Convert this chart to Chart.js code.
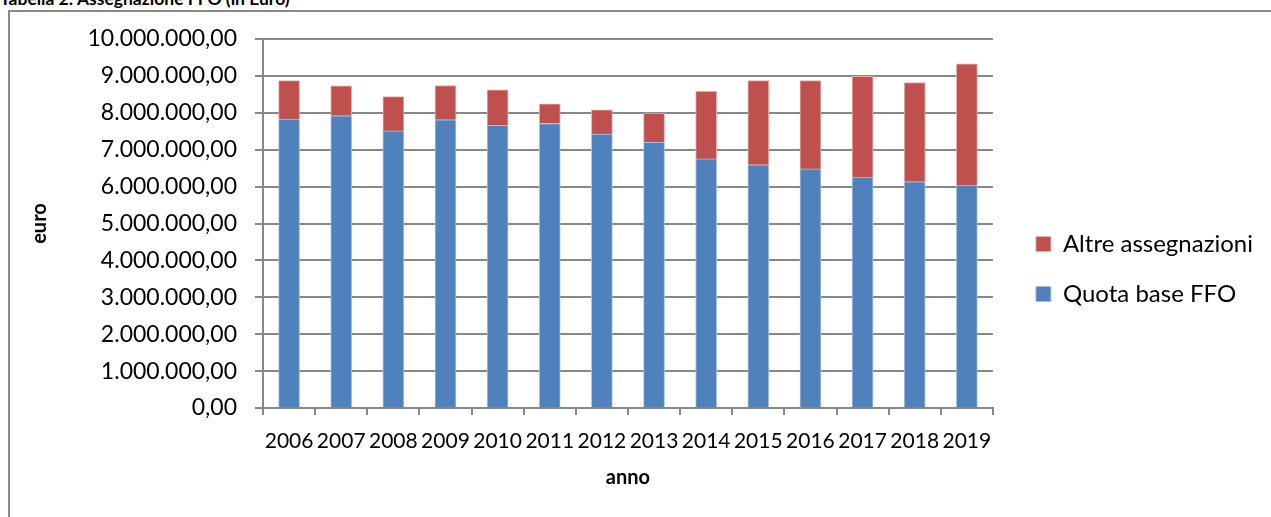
<!DOCTYPE html>
<html lang="it">
<head>
<meta charset="utf-8">
<title>Assegnazione FFO</title>
<script src="https://cdn.jsdelivr.net/npm/chart.js@4.4.1/dist/chart.umd.min.js"></script>
<style>
  html, body { margin: 0; padding: 0; background: #fff; overflow: hidden; }
  body { width: 1271px; height: 517px; position: relative; }
  #caption {
    position: absolute; left: 0; top: -10px;
    font: bold 17.5px/17px Lato, "Noto Sans", sans-serif; color: #000;
    white-space: nowrap;
  }
  #frame {
    position: absolute; left: 8px; top: 10px; right: -10px; bottom: -10px;
    border: 2px solid #8a8a8a;
  }
  #chart { position: absolute; left: 0; top: 0; }
</style>
</head>
<body>
<div id="caption">Tabella 2: Assegnazione FFO (in Euro)</div>
<div id="frame"></div>
<canvas id="chart" width="1271" height="517"></canvas>
<script>
// Anni riportati sull'asse orizzontale
const anni = ['2006', '2007', '2008', '2009', '2010', '2011', '2012',
              '2013', '2014', '2015', '2016', '2017', '2018', '2019'];

// Quota base del Fondo di Finanziamento Ordinario (euro)
const quotaBase = [7830000, 7920000, 7510000, 7810000, 7660000, 7710000, 7420000,
                   7200000, 6750000, 6590000, 6480000, 6260000, 6130000, 6040000];

// Altre assegnazioni FFO (euro)
const altreAssegnazioni = [1040000, 810000, 930000, 930000, 960000, 530000, 660000,
                           790000, 1830000, 2280000, 2390000, 2730000, 2690000, 3290000];

// Estremi e passo dell'asse verticale
const yMin = 0;
const yMax = 10000000;
const yStep = 1000000;

// Formato numerico italiano: 1.000.000,00
function formatEuro(v) {
  const intero = Math.round(v).toString().replace(/\B(?=(\d{3})+(?!\d))/g, '.');
  return intero + ',00';
}

const GRIGIO = '#878787';
const FONT = 'Lato, "Noto Sans", sans-serif';

new Chart(document.getElementById('chart'), {
  type: 'bar',
  data: {
    labels: anni,
    datasets: [
      {
        label: 'Quota base FFO',
        data: quotaBase,
        backgroundColor: '#4F81BD',
        borderColor: '#A9C0DD',
        borderWidth: 1
      },
      {
        label: 'Altre assegnazioni',
        data: altreAssegnazioni,
        backgroundColor: '#C0504D',
        borderColor: '#E4AEAC',
        borderWidth: 1
      }
    ]
  },
  options: {
    responsive: false,
    devicePixelRatio: 1,
    animation: false,
    layout: { padding: { left: 0, top: 39, right: 8, bottom: 18 } },
    datasets: { bar: { barThickness: 21 } },
    scales: {
      x: {
        stacked: true,
        grid: {
          display: true, drawOnChartArea: false, drawTicks: true,
          tickLength: 7, offset: true, color: GRIGIO, lineWidth: 2
        },
        border: { display: true, color: GRIGIO, width: 2 },
        ticks: {
          color: '#000', padding: 14, maxRotation: 0, autoSkip: false,
          font: { family: FONT, size: 21 }
        },
        title: {
          display: true, text: 'anno', color: '#000',
          font: { family: FONT, size: 20, weight: 'bold' },
          padding: { top: 0, bottom: 9 }
        },
        afterFit: (s) => { s.height = 91; }
      },
      y: {
        stacked: true,
        min: yMin, max: yMax,
        grid: { color: GRIGIO, lineWidth: 2, drawTicks: true, tickLength: 8 },
        border: { display: true, color: GRIGIO, width: 2 },
        ticks: {
          stepSize: yStep, color: '#000', padding: 18,
          font: { family: FONT, size: 23 },
          callback: (v) => formatEuro(v)
        },
        title: {
          display: true, text: 'euro', color: '#000',
          font: { family: FONT, size: 20, weight: 'bold' },
          padding: { top: 28, bottom: 0 }
        },
        afterFit: (s) => { s.width = 263; }
      },
      spazio: {
        type: 'linear', position: 'right', display: true,
        grid: { display: false }, border: { display: false },
        ticks: { display: false }, title: { display: false },
        afterFit: (s) => { s.width = 17; }
      }
    },
    plugins: {
      legend: {
        position: 'right',
        reverse: true,
        maxWidth: 400,
        labels: {
          color: '#000', boxWidth: 15, boxHeight: 15, padding: 26,
          font: { family: FONT, size: 24 }
        }
      },
      tooltip: { enabled: false }
    }
  }
});
</script>
</body>
</html>
